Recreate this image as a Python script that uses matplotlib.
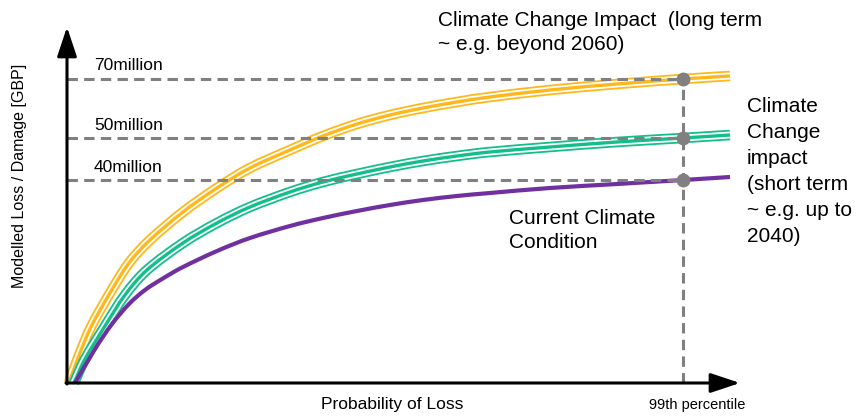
import matplotlib
matplotlib.use("Agg")
import matplotlib.pyplot as plt
from matplotlib.path import Path
from matplotlib.patches import PathPatch

plt.rcParams['font.family'] = ['Liberation Sans', 'DejaVu Sans']
plt.rcParams['lines.scale_dashes'] = False

# schematic chart, values (height above the origin)
current_x = [8, 28, 45, 62, 78, 95, 116, 150, 183, 223, 256, 290, 323, 356, 390, 423, 483, 550, 616, 663]
current_y = [0, 34, 59, 79, 93, 104, 116, 132, 145, 157, 165, 172, 178, 183, 187, 190, 195, 199, 203, 206]

short_x = [7, 18, 38, 58, 80, 116, 150, 183, 223, 256, 290, 323, 356, 390, 423, 483, 550, 616, 663]
short_y = [0, 24, 57, 88, 113, 140, 160, 176, 191, 201, 209, 216, 222, 227, 231, 236, 241, 245, 248]

long_x = [2, 11, 24, 43, 62, 83, 116, 150, 183, 223, 256, 290, 323, 356, 390, 423, 483, 550, 616, 663]
long_y = [0, 25, 56, 90, 120, 143, 171, 195, 215, 233, 247, 259, 268, 275, 281, 286, 293, 299, 304, 307]

p99 = 616
levels = [304, 245, 203]
level_labels = ["70million", "50million", "40million"]

orange = '#FFB81C'
green = '#12BF8A'
purple = '#7030A0'
grey = '#808080'


def smooth(xs, ys):
    # smooth curve through the points (Catmull-Rom drawn as bezier segments)
    pts = list(zip(xs, ys))
    verts = [pts[0]]
    codes = [Path.MOVETO]
    n = len(pts)
    for i in range(n - 1):
        p0 = pts[i - 1] if i > 0 else pts[i]
        p1 = pts[i]
        p2 = pts[i + 1]
        p3 = pts[i + 2] if i + 2 < n else pts[i + 1]
        c1 = (p1[0] + (p2[0] - p0[0]) / 6, p1[1] + (p2[1] - p0[1]) / 6)
        c2 = (p2[0] - (p3[0] - p1[0]) / 6, p2[1] - (p3[1] - p1[1]) / 6)
        verts += [c1, c2, p2]
        codes += [Path.CURVE4] * 3
    return Path(verts, codes)


def curve(ax, xs, ys, color, lw, z):
    ax.add_patch(PathPatch(smooth(xs, ys), fill=False, edgecolor=color, lw=lw,
                           capstyle='butt', joinstyle='round', zorder=z))


fig = plt.figure(figsize=(8.59, 4.18), dpi=100)
ax = fig.add_axes([0, 0, 1, 1])
ax.set_xlim(-67, 792)
ax.set_ylim(-35, 383)
ax.axis('off')

# bundles: coloured / white / coloured stacked lines
for xs, ys, c in [(long_x, long_y, orange), (short_x, short_y, green)]:
    curve(ax, xs, ys, c, 7.6, 2)
    curve(ax, xs, ys, 'white', 5.0, 2)
    curve(ax, xs, ys, c, 2.4, 2)
curve(ax, current_x, current_y, purple, 3.0, 3)

# reference lines
for lv, lab in zip(levels, level_labels):
    ax.plot([0, p99], [lv, lv], color=grey, lw=2.2, ls=(0, (7.5, 4.5)), zorder=4)
    ax.text(27, lv + 13, lab, fontsize=12.5, va='center', ha='left')
ax.plot([p99, p99], [0, 313], color=grey, lw=2.2, ls=(0, (7.5, 4.5)), zorder=4)
ax.scatter([p99] * len(levels), levels, s=100, color=grey, zorder=5, linewidths=0)

# axes with arrows
arrow = dict(arrowstyle='-|>,head_length=0.9,head_width=0.3', lw=2.2,
             color='black', shrinkA=0, shrinkB=0, mutation_scale=20)
ax.annotate('', xy=(0, 356), xytext=(0, -1), arrowprops=arrow, zorder=6)
ax.annotate('', xy=(673, 0), xytext=(-1, 0), arrowprops=arrow, zorder=6)

ax.text(325, -22, "Probability of Loss", fontsize=12.5, ha='center', va='center')
ax.text(630, -22, "99th percentile", fontsize=10.5, ha='center', va='center')
ax.text(-47, 207, "Modelled Loss / Damage [GBP]", fontsize=11.5, rotation=90,
        ha='center', va='center')

ax.text(371, 372, "Climate Change Impact  (long term\n~ e.g. beyond 2060)",
        fontsize=15, ha='left', va='top', linespacing=1.33)
ax.text(680, 286, "Climate\nChange\nimpact\n(short term\n~ e.g. up to\n2040)",
        fontsize=15, ha='left', va='top', linespacing=1.46)
ax.text(442, 174, "Current Climate\nCondition", fontsize=15, ha='left', va='top',
        linespacing=1.33)

fig.savefig("out.png", dpi=100)
